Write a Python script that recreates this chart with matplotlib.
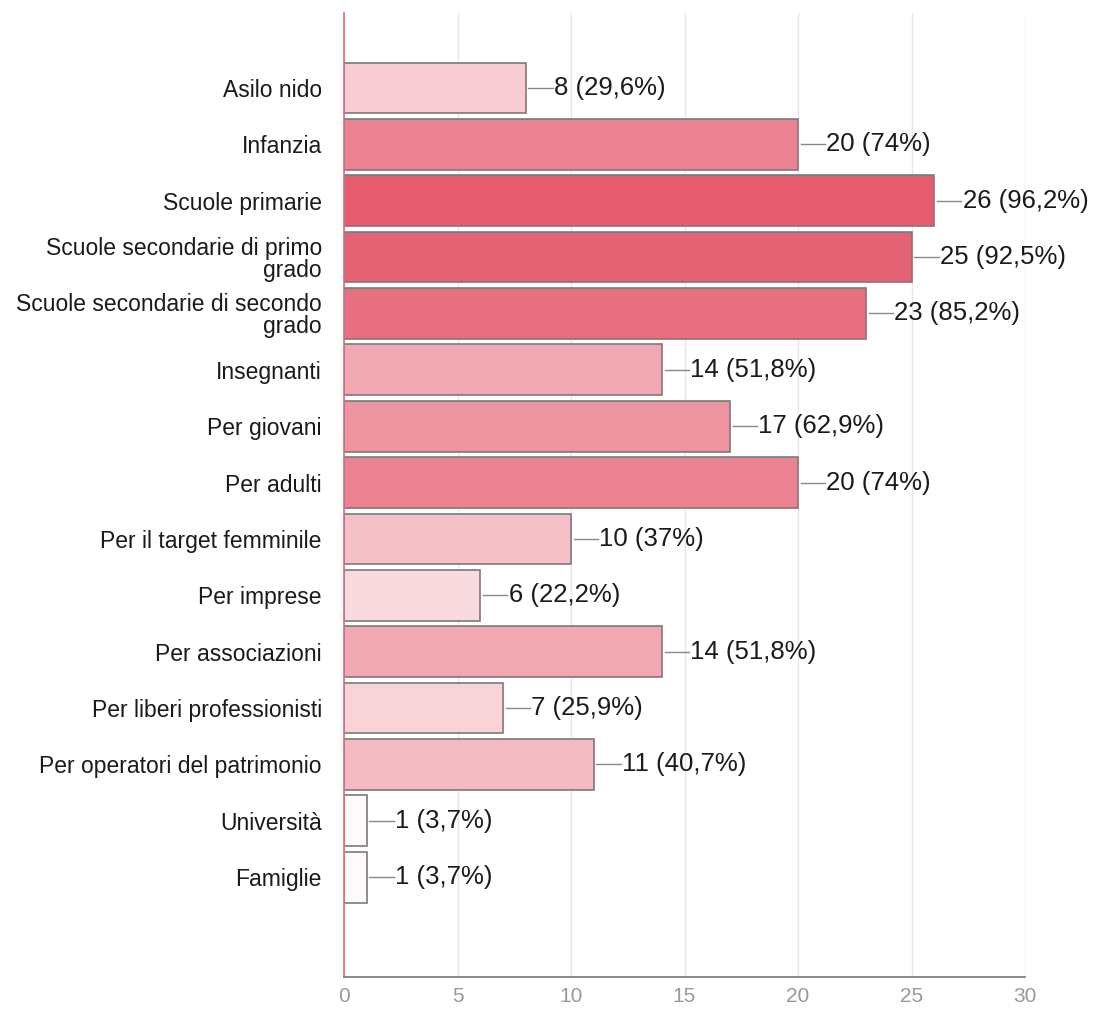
import matplotlib
matplotlib.use("Agg")
import matplotlib.pyplot as plt
from matplotlib.colors import LinearSegmentedColormap
import numpy as np

categories = [
    "Asilo nido",
    "Infanzia",
    "Scuole primarie",
    "Scuole secondarie di primo\ngrado",
    "Scuole secondarie di secondo\ngrado",
    "Insegnanti",
    "Per giovani",
    "Per adulti",
    "Per il target femminile",
    "Per imprese",
    "Per associazioni",
    "Per liberi professionisti",
    "Per operatori del patrimonio",
    "Università",
    "Famiglie",
]
counts = [8, 20, 26, 25, 23, 14, 17, 20, 10, 6, 14, 7, 11, 1, 1]
percents = ["29,6%", "74%", "96,2%", "92,5%", "85,2%", "51,8%", "62,9%", "74%",
            "37%", "22,2%", "51,8%", "25,9%", "40,7%", "3,7%", "3,7%"]
total = 27
xticks = [0, 5, 10, 15, 20, 25, 30]

plt.rcParams['font.family'] = ['Liberation Sans', 'DejaVu Sans']

fig = plt.figure(figsize=(10.95, 10.09), dpi=100)
ax = fig.add_axes([344 / 1095, 1 - 977 / 1009, (1025 - 344) / 1095, (977 - 13) / 1009])

cmap = LinearSegmentedColormap.from_list("pk", ["#ffffff", "#e4566a"])
y = np.arange(len(categories))
colors = [cmap(c / total) for c in counts]

ax.set_axisbelow(True)
ax.grid(axis="x", color="#e6e6e6", linewidth=1.0)
ax.barh(y, counts, height=0.9, color=colors, edgecolor="#7a7a7a", linewidth=1.2, zorder=2)

for yi, c, p in zip(y, counts, percents):
    ax.plot([c + 0.12, c + 1.2], [yi, yi], color="#888888", linewidth=1.0, zorder=3)
    ax.text(c + 1.25, yi, f"{c} ({p})", va="center", ha="left", fontsize=18.5,
            color="#1a1a1a", zorder=4)

ax.set_xlim(0, 30)
ax.set_ylim(len(categories) - 1 + 1.77, -1.33)
ax.set_xticks(xticks)
ax.set_xticklabels([str(t) for t in xticks])
ax.set_yticks(y)
ax.set_yticklabels(categories, fontsize=16.5, color="#1a1a1a", linespacing=0.95)
ax.tick_params(axis="y", length=0, pad=16)
ax.tick_params(axis="x", length=0, pad=7, labelsize=15, labelcolor="#999999")

for s in ["top", "right"]:
    ax.spines[s].set_visible(False)
ax.spines["left"].set_color("#e06a7c")
ax.spines["left"].set_linewidth(1.2)
ax.spines["bottom"].set_color("#777777")
ax.spines["bottom"].set_linewidth(1.2)

fig.savefig("out.png", dpi=100, facecolor="white")
